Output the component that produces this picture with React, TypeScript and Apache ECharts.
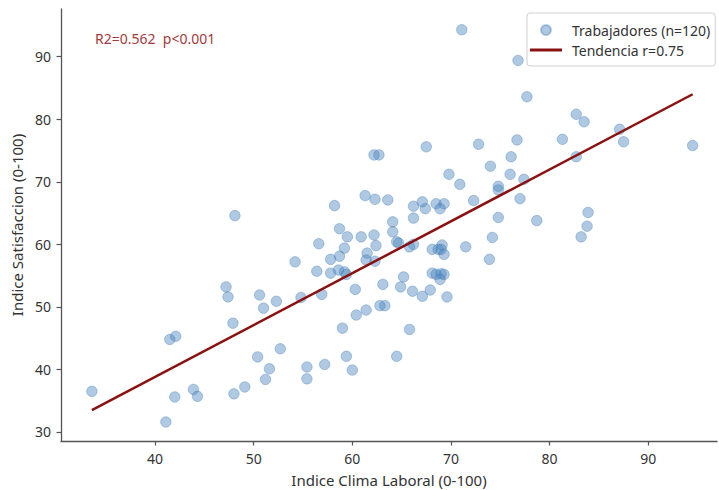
import React, { useEffect, useRef } from "react";
import * as echarts from "echarts";

const climaX = [
  71.1, 76.8, 77.7, 82.7, 83.5, 87.1, 76.7, 81.3, 87.5, 72.8,
  94.5, 67.5, 62.2, 62.7, 69.8, 70.9, 72.3, 76.1, 82.7, 74.0,
  76.0, 77.4, 74.8, 74.8, 77.0, 74.8, 78.7, 83.9, 83.8, 83.2,
  74.2, 71.5, 73.9, 48.1, 33.6, 41.5, 42.1, 42.0, 43.9, 44.3,
  41.1, 47.9, 48.0, 49.1, 50.4, 51.6, 51.2, 51.0, 47.4, 47.2,
  50.6, 52.3, 52.7, 55.4, 55.4, 57.2, 59.0, 59.4, 60.0, 60.4,
  61.4, 62.8, 63.3, 65.8, 64.5, 58.2, 61.3, 62.3, 63.6, 66.2,
  67.1, 67.4, 68.5, 69.3, 68.9, 66.2, 64.1, 64.1, 58.7, 59.5,
  60.9, 62.2, 62.4, 64.5, 64.7, 56.6, 59.2, 61.5, 65.8, 66.2,
  68.1, 68.7, 69.1, 69.0, 69.3, 58.7, 57.8, 61.4, 62.3, 54.2,
  56.4, 57.8, 58.6, 59.2, 59.4, 65.2, 68.1, 68.5, 69.0, 69.3,
  68.9, 63.1, 64.9, 60.3, 66.1, 67.9, 67.1, 69.6, 56.9, 54.8,
];
const satisY = [
  94.3, 89.4, 83.6, 80.8, 79.6, 78.4, 76.7, 76.8, 76.4, 76.0,
  75.8, 75.6, 74.3, 74.3, 71.2, 69.6, 67.0, 74.0, 74.0, 72.5,
  71.2, 70.4, 69.3, 68.7, 67.3, 64.3, 63.8, 65.1, 62.9, 61.2,
  61.1, 59.6, 57.6, 64.6, 36.5, 44.8, 45.3, 35.6, 36.8, 35.7,
  31.6, 47.4, 36.1, 37.2, 42.0, 40.1, 38.4, 49.8, 51.6, 53.2,
  51.9, 50.9, 43.3, 40.4, 38.5, 40.8, 46.6, 42.1, 39.9, 48.7,
  49.5, 50.2, 50.2, 46.4, 42.1, 66.2, 67.8, 67.2, 67.1, 66.1,
  66.8, 65.7, 66.5, 66.5, 65.7, 64.2, 63.6, 62.0, 62.5, 61.2,
  61.2, 61.5, 59.8, 60.4, 60.2, 60.1, 59.4, 58.6, 59.6, 60.0,
  59.2, 59.2, 59.9, 59.2, 58.4, 58.1, 57.6, 57.5, 57.3, 57.2,
  55.7, 55.4, 55.9, 55.6, 55.2, 54.8, 55.4, 55.2, 55.3, 55.2,
  54.4, 53.6, 53.2, 52.8, 52.5, 52.7, 51.7, 51.6, 52.0, 51.5,
];
const trendX = [33.6, 94.5];
const trendY = [33.5, 84.0];
const tickValues = [40, 50, 60, 70, 80, 90];
const yTickValues = [30, 40, 50, 60, 70, 80, 90];

const FONT = "'Noto Sans', 'DejaVu Sans', sans-serif";

export default function App() {
  const ref = useRef<HTMLDivElement>(null);
  useEffect(() => {
    if (!ref.current) return;
    const chart = echarts.init(ref.current, null, { renderer: "svg" });
    const points = climaX.map((x, i) => [x, satisY[i]]);
    const trend = trendX.map((x, i) => [x, trendY[i]]);
    const axisCommon = {
      type: "value" as const,
      splitLine: { show: false },
      axisLine: { show: true, lineStyle: { color: "#555", width: 1.3 } },
      axisTick: { show: true, length: 4.5, lineStyle: { color: "#555", width: 1.2 } },
      nameLocation: "middle" as const,
      nameTextStyle: { fontFamily: FONT, fontSize: 15, color: "#333" },
    };
    chart.setOption({
      animation: false,
      backgroundColor: "#fff",
      textStyle: { fontFamily: FONT },
      grid: { left: 61, right: 2, top: 9, bottom: 49, containLabel: false, outerBoundsMode: "none" },
      legend: {
        orient: "vertical",
        left: 527,
        top: 13,
        padding: [10, 5, 9, 3],
        itemWidth: 32,
        itemHeight: 10,
        itemGap: 6,
        borderColor: "#d0d0d0",
        borderWidth: 1,
        borderRadius: 3,
        backgroundColor: "rgba(255,255,255,0.85)",
        textStyle: { fontFamily: FONT, fontSize: 14, color: "#333", padding: [0, 0, 0, 5] },
        data: [
          { name: "Trabajadores (n=120)", icon: "circle" },
          { name: "Tendencia r=0.75", icon: "path://M0 0H32V3H0Z" },
        ],
      },
      xAxis: {
        ...axisCommon,
        min: 30.47,
        max: 96.97,
        name: "Indice Clima Laboral (0-100)",
        nameGap: 31,
        axisLabel: { customValues: tickValues, fontFamily: FONT, fontSize: 14, color: "#333", margin: 10 },
        axisTick: { ...axisCommon.axisTick, customValues: tickValues },
      },
      yAxis: {
        ...axisCommon,
        min: 28.56,
        max: 97.63,
        name: "Indice Satisfaccion (0-100)",
        nameGap: 37,
        axisLabel: { customValues: yTickValues, fontFamily: FONT, fontSize: 14, color: "#333", margin: 10 },
        axisTick: { ...axisCommon.axisTick, customValues: yTickValues },
      },
      graphic: [
        {
          type: "text",
          left: 95,
          top: 31,
          style: { text: "R2=0.562  p<0.001", fill: "#a23b3b", font: `14px ${FONT}` },
        },
      ],
      series: [
        {
          name: "Trabajadores (n=120)",
          type: "scatter",
          data: points,
          symbolSize: 10.5,
          itemStyle: {
            color: "rgba(72,132,190,0.55)",
            borderColor: "rgba(60,120,180,0.45)",
            borderWidth: 1,
          },
          z: 2,
        },
        {
          name: "Tendencia r=0.75",
          type: "line",
          data: trend,
          symbol: "none",
          lineStyle: { color: "#8b1010", width: 2.5 },
          itemStyle: { color: "#8b1010" },
          z: 3,
        },
      ],
    });
    return () => chart.dispose();
  }, []);
  return <div ref={ref} style={{ width: 719, height: 490, position: "absolute", left: 0, top: 0 }} />;
}
